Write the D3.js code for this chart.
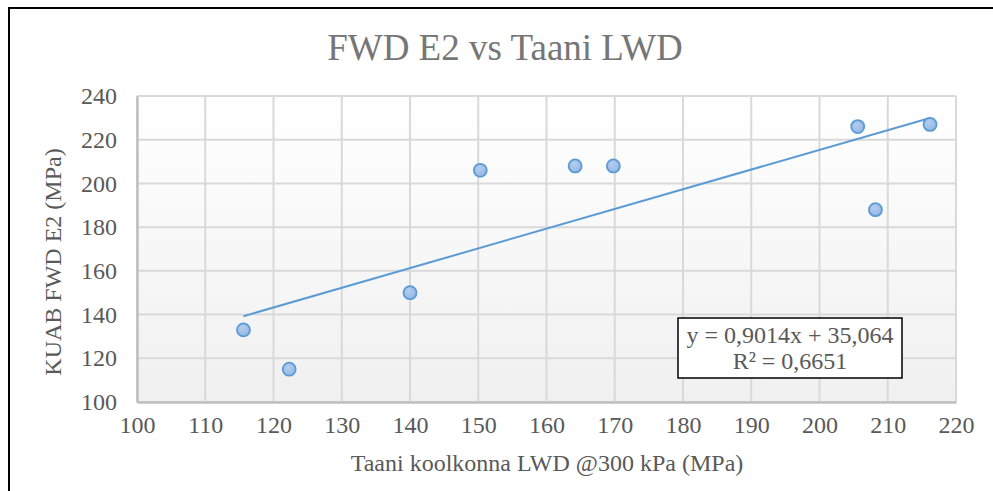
<!DOCTYPE html>
<html>
<head>
<meta charset="utf-8">
<script src="https://cdn.jsdelivr.net/npm/d3@7"></script>
<style>
  html, body { margin: 0; padding: 0; background: #fff; }
  svg { display: block; }
</style>
</head>
<body>
<svg id="chart" width="993" height="491"></svg>
<script>
const title = "FWD E2 vs Taani LWD";
const xTitle = "Taani koolkonna LWD @300 kPa (MPa)";
const yTitle = "KUAB FWD E2 (MPa)";
const lwdValues = [115.6, 122.3, 140.0, 150.3, 164.2, 169.8, 205.6, 208.2, 216.2];
const fwdValues = [133, 115, 150, 206, 208, 208, 226, 188, 227];
const xTicks = [100, 110, 120, 130, 140, 150, 160, 170, 180, 190, 200, 210, 220];
const yTicks = [100, 120, 140, 160, 180, 200, 220, 240];
const trendSlope = 0.9014;
const trendIntercept = 35.064;
const equationLines = ["y = 0,9014x + 35,064", "R\u00B2 = 0,6651"];

const font = "'Liberation Serif', 'Times New Roman', serif";
const svg = d3.select("#chart");
const W = 993, H = 491;
const m = { left: 137, right: 956, top: 96, bottom: 402 };

// outer chart border (left & top visible)
svg.append("path")
  .attr("d", `M9,${H} L9,8 L${W},8`)
  .attr("fill", "none").attr("stroke", "#000").attr("stroke-width", 2);

const x = d3.scaleLinear().domain([100, 220]).range([m.left, m.right]);
const y = d3.scaleLinear().domain([100, 240]).range([m.bottom, m.top]);

const defs = svg.append("defs");
const grad = defs.append("linearGradient").attr("id", "bg").attr("x1", 0).attr("y1", 0).attr("x2", 0).attr("y2", 1);
grad.append("stop").attr("offset", "0%").attr("stop-color", "#ffffff");
grad.append("stop").attr("offset", "100%").attr("stop-color", "#f0f0f0");
const mg = defs.append("radialGradient").attr("id", "mk").attr("cx", "40%").attr("cy", "35%").attr("r", "70%");
mg.append("stop").attr("offset", "0%").attr("stop-color", "#b4cdee");
mg.append("stop").attr("offset", "100%").attr("stop-color", "#93b6e4");

svg.append("rect")
  .attr("x", m.left).attr("y", m.top)
  .attr("width", m.right - m.left).attr("height", m.bottom - m.top)
  .attr("fill", "url(#bg)");

// gridlines
const grid = svg.append("g");
grid.selectAll(".vx").data(xTicks).join("line")
  .attr("x1", d => x(d)).attr("x2", d => x(d))
  .attr("y1", m.top).attr("y2", m.bottom)
  .attr("stroke", "#d9d9d9").attr("stroke-width", 2);
grid.selectAll(".hy").data(yTicks).join("line")
  .attr("x1", m.left).attr("x2", m.right)
  .attr("y1", d => y(d)).attr("y2", d => y(d))
  .attr("stroke", "#d9d9d9").attr("stroke-width", 2);

// axes
const xAxis = svg.append("g").attr("transform", `translate(0,${m.bottom})`)
  .call(d3.axisBottom(x).tickValues(xTicks).tickSize(0).tickPadding(14));
xAxis.select(".domain").attr("stroke", "#bfbfbf").attr("stroke-width", 2.5);
xAxis.selectAll("text").attr("font-family", font).attr("font-size", 24).attr("fill", "#595959");

const yAxis = svg.append("g").attr("transform", `translate(${m.left},0)`)
  .call(d3.axisLeft(y).tickValues(yTicks).tickSize(0).tickPadding(20));
yAxis.select(".domain").attr("stroke", "#bfbfbf").attr("stroke-width", 2.5);
yAxis.selectAll("text").attr("font-family", font).attr("font-size", 24).attr("fill", "#595959");

// trendline
const xMin = d3.min(lwdValues), xMax = d3.max(lwdValues);
svg.append("line")
  .attr("x1", x(xMin)).attr("y1", y(trendSlope * xMin + trendIntercept))
  .attr("x2", x(xMax)).attr("y2", y(trendSlope * xMax + trendIntercept))
  .attr("stroke", "#5b9bd5").attr("stroke-width", 2);

// points
svg.append("g").selectAll("circle").data(lwdValues.map((v, i) => [v, fwdValues[i]])).join("circle")
  .attr("cx", d => x(d[0])).attr("cy", d => y(d[1])).attr("r", 6.5)
  .attr("fill", "url(#mk)").attr("stroke", "#5b9bd5").attr("stroke-width", 1.8);

// equation box
const bx = 678, by = 318, bw = 224, bh = 60;
svg.append("rect").attr("x", bx).attr("y", by).attr("width", bw).attr("height", bh)
  .attr("fill", "#fff").attr("stroke", "#000").attr("stroke-width", 1.5);
svg.append("g").selectAll("text").data(equationLines).join("text")
  .attr("x", bx + bw / 2).attr("y", (d, i) => 343 + i * 26)
  .attr("text-anchor", "middle")
  .attr("font-family", font).attr("font-size", 24).attr("fill", "#595959")
  .text(d => d);

// titles
svg.append("text").attr("x", 505).attr("y", 60).attr("text-anchor", "middle")
  .attr("font-family", font).attr("font-size", 37).attr("fill", "#767676").text(title);
svg.append("text").attr("x", 547).attr("y", 471).attr("text-anchor", "middle")
  .attr("font-family", font).attr("font-size", 24).attr("fill", "#595959").text(xTitle);
svg.append("text").attr("transform", "translate(61,262) rotate(-90)").attr("text-anchor", "middle")
  .attr("font-family", font).attr("font-size", 24).attr("fill", "#595959").text(yTitle);
</script>
</body>
</html>
